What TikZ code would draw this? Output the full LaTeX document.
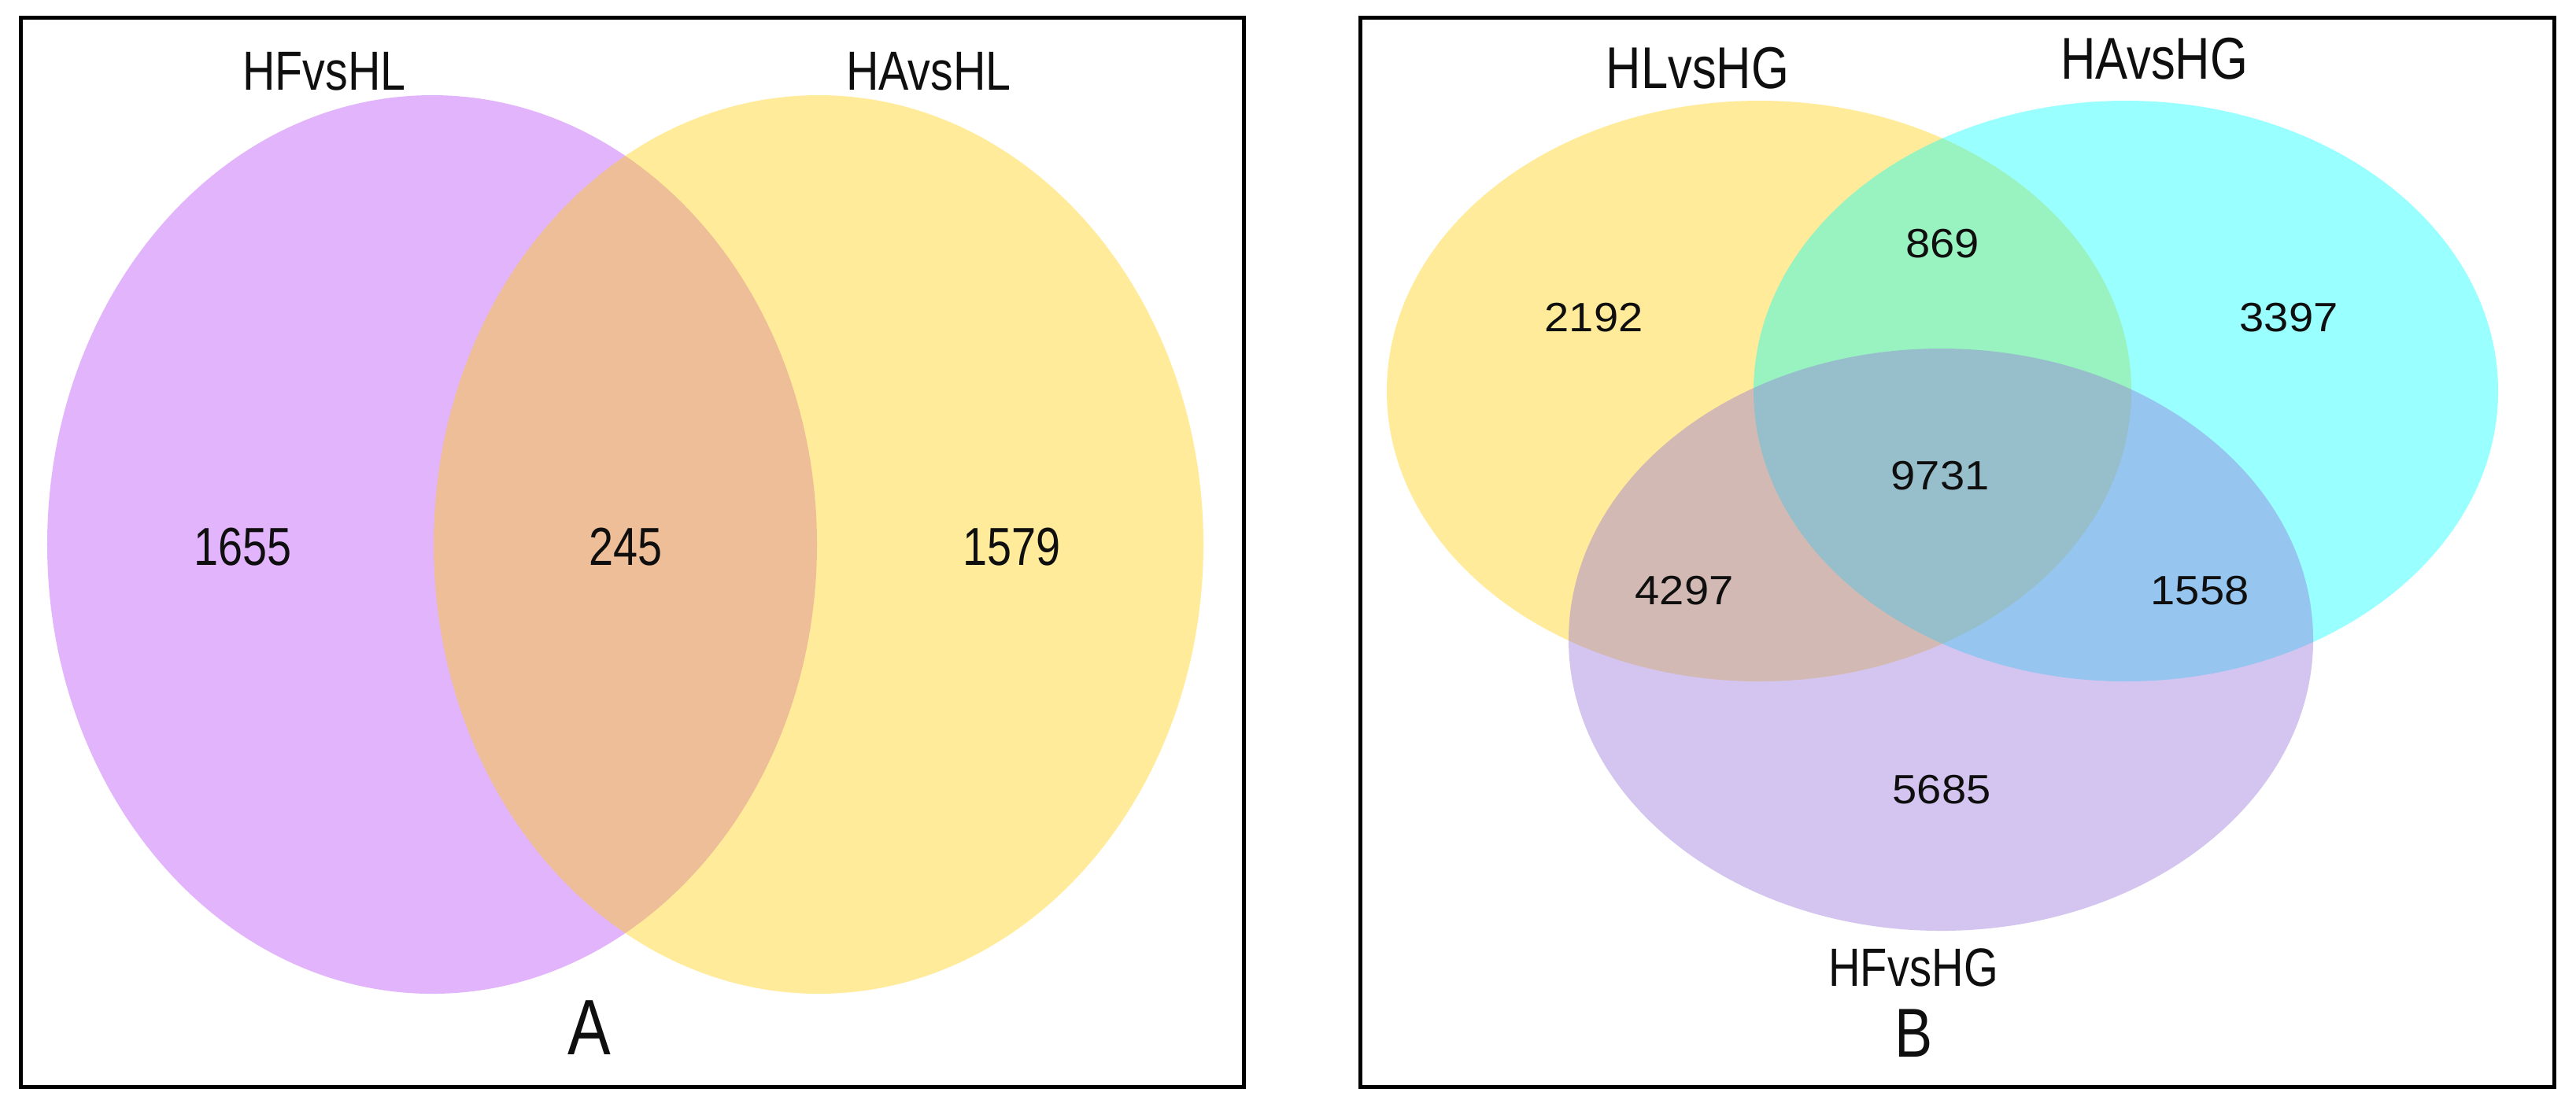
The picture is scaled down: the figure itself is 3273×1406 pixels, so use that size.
\documentclass[tikz,border=0pt]{standalone}
\usepackage{fontspec}
\setmainfont{Liberation Sans}
\newfontfamily\condfont[FakeStretch=0.82]{Liberation Sans}
\newfontfamily\widefont[FakeStretch=1.08]{Liberation Sans}
\definecolor{purpA}{RGB}{226,180,252}
\definecolor{ylw}{RGB}{255,207,0}
\definecolor{cyn}{RGB}{0,255,255}
\definecolor{mpur}{RGB}{147,112,219}
\definecolor{txt}{RGB}{15,15,15}
\begin{document}
\begin{tikzpicture}[x=0.2pt,y=-0.2pt,
  every node/.style={inner sep=0pt,anchor=base,text=txt},
  labA/.style={font=\condfont\fontsize{14}{14}\selectfont},
  numA/.style={font=\condfont\fontsize{13.6}{14}\selectfont},
  labB/.style={font=\condfont\fontsize{15}{15}\selectfont},
  numB/.style={font=\widefont\fontsize{10.4}{11}\selectfont},
  panel/.style={font=\condfont\fontsize{20}{20}\selectfont},
  frame/.style={draw=black,line width=1pt},
  setB/.style={opacity=0.4}]
\useasboundingbox (0,0) rectangle (3273,1406);
\fill[white] (0,0) rectangle (3273,1406);
% ---------- Panel A ----------
\fill[purpA] (549,692) ellipse [x radius=97.8pt, y radius=114.2pt];
\fill[ylw,opacity=0.4] (1040,692) ellipse [x radius=97.8pt, y radius=114.2pt];
\draw[frame] (26.5,22) rectangle (1580,1381);
\node[labA] (hfhl) at (412,114) {HFvsHL};
\node[labA] (hahl) at (1180,114) {HAvsHL};
\node[numA] (a1) at (309,718) {1655};
\node[numA] (a2) at (795,718) {245};
\node[numA] (a3) at (1285,718) {1579};
\node[panel] (pa) at (749,1340) {A};
% ---------- Panel B ----------
\fill[ylw,setB] (2235,497) ellipse [x radius=94.6pt, y radius=73.8pt];
\fill[cyn,setB] (2701,497) ellipse [x radius=94.6pt, y radius=73.8pt];
\fill[mpur,setB] (2466,813) ellipse [x radius=94.6pt, y radius=74pt];
\draw[frame] (1728,22) rectangle (3245,1381);
\node[labB] (hlhg) at (2157,112) {HLvsHG};
\node[labB] (hahg) at (2737,100) {HAvsHG};
\node[numB] (b869) at (2468,327) {869};
\node[numB] (b2192) at (2025,421) {2192};
\node[numB] (b3397) at (2908,421) {3397};
\node[numB] (b9731) at (2465,622) {9731};
\node[numB] (b4297) at (2140,768) {4297};
\node[numB] (b1558) at (2795,768) {1558};
\node[numB] (b5685) at (2467,1021) {5685};
\node[font=\condfont\fontsize{13.7}{14}\selectfont] (hfhg) at (2431,1253) {HFvsHG};
\node[font=\condfont\fontsize{17.6}{18}\selectfont] (pb) at (2432,1343) {B};
\end{tikzpicture}
\end{document}
